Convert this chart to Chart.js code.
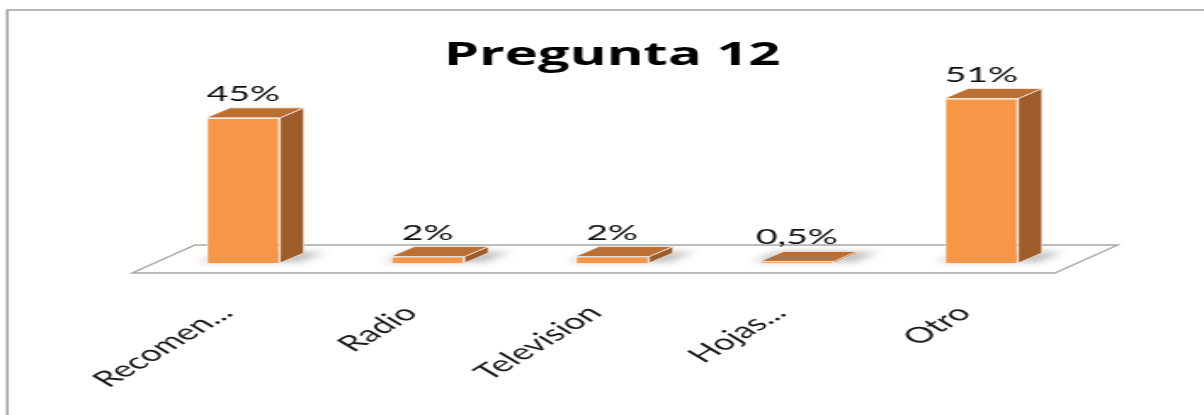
<!DOCTYPE html>
<html>
<head>
<meta charset="utf-8">
<script src="https://cdn.jsdelivr.net/npm/chart.js@4.4.1/dist/chart.umd.min.js"></script>
<style>
  html, body { margin: 0; padding: 0; background: #ffffff; overflow: hidden; }
  /* the chart is laid out narrow and widened horizontally, like an embedded office chart */
  #wrap {
    position: absolute; left: 0; top: 0;
    width: 708px; height: 415px;
    transform: scaleX(1.70057); transform-origin: 0 0;
  }
</style>
</head>
<body>
<div id="wrap"><canvas id="chart"></canvas></div>
<script>
// ---- data ----
const chartTitle = 'Pregunta 12';
const categories = ['Recomen...', 'Radio', 'Television', 'Hojas...', 'Otro'];
const values = [45, 2, 2, 0.5, 51];          // percent
const yMin = 0;
const yMax = 55;

// ---- look ----
const FONT = 'Lato, "Open Sans", sans-serif';
const TITLE_FONT = '"Open Sans", Lato, sans-serif';
const FRONT = '#F79646';
const SIDE = '#9D5C2A';
const TOP = '#BC6F33';
const DEPTH = { dx: 14, dy: -10 };          // oblique depth of each column

const fmtPct = v => String(v).replace('.', ',') + '%';

function poly(ctx, pts) {
  ctx.beginPath();
  ctx.moveTo(pts[0][0], pts[0][1]);
  for (let i = 1; i < pts.length; i++) ctx.lineTo(pts[i][0], pts[i][1]);
  ctx.closePath();
}

// frame, floor, shadows, column sides/tops and value labels
const columns3d = {
  id: 'columns3d',
  beforeDraw(chart) {
    const ctx = chart.ctx;
    ctx.save();
    ctx.strokeStyle = '#a3a3a3';
    ctx.lineWidth = 1.5;
    ctx.beginPath();
    ctx.moveTo(4.3, chart.height + 5);
    ctx.lineTo(4.3, 10);
    ctx.lineTo(chart.width + 5, 10);
    ctx.stroke();
    ctx.restore();
  },
  beforeDatasetsDraw(chart) {
    const ctx = chart.ctx;
    const a = chart.chartArea;
    const yb = chart.scales.y.getPixelForValue(0);
    ctx.save();
    // floor plate
    const floor = [[a.left - 11, yb + 10], [a.left + 26, yb - 18], [a.right + 26, yb - 18], [a.right - 11, yb + 10]];
    ctx.fillStyle = '#ffffff';
    ctx.strokeStyle = '#a6a6a6';
    ctx.lineWidth = 1.3;
    poly(ctx, floor);
    ctx.fill();
    ctx.stroke();
    // soft shadows on the floor
    ctx.filter = 'blur(3px)';
    ctx.fillStyle = 'rgba(0,0,0,0.26)';
    chart.getDatasetMeta(0).data.forEach(bar => {
      const p = bar.getProps(['x', 'width']);
      const l = p.x - p.width / 2, r = p.x + p.width / 2;
      poly(ctx, [[l - 4, yb - 1], [l - 4 + DEPTH.dx, yb + DEPTH.dy - 1], [r + DEPTH.dx + 12, yb + DEPTH.dy - 1], [r + 12, yb - 1]]);
      ctx.fill();
    });
    ctx.restore();
  },
  afterDatasetsDraw(chart) {
    const ctx = chart.ctx;
    const meta = chart.getDatasetMeta(0);
    ctx.save();
    meta.data.forEach((bar, i) => {
      const p = bar.getProps(['x', 'y', 'base', 'width']);
      const l = p.x - p.width / 2, r = p.x + p.width / 2;
      const t = Math.min(p.y, p.base), b = Math.max(p.y, p.base);
      const { dx, dy } = DEPTH;
      ctx.lineWidth = 1;
      ctx.strokeStyle = 'rgba(255,255,255,0.65)';
      // side
      ctx.fillStyle = SIDE;
      poly(ctx, [[r, t], [r + dx, t + dy], [r + dx, b + dy], [r, b]]);
      ctx.fill();
      ctx.stroke();
      // top
      ctx.fillStyle = TOP;
      poly(ctx, [[l, t], [l + dx, t + dy], [r + dx, t + dy], [r, t]]);
      ctx.fill();
      ctx.stroke();
      // value label
      ctx.fillStyle = '#111111';
      ctx.font = '22px ' + FONT;
      ctx.textAlign = 'center';
      ctx.textBaseline = 'alphabetic';
      ctx.fillText(fmtPct(values[i]), p.x, t - 17);
    });
    ctx.restore();
  }
};

new Chart(document.getElementById('chart'), {
  type: 'bar',
  data: {
    labels: categories,
    datasets: [{
      data: values,
      backgroundColor: FRONT,
      borderColor: 'rgba(255,255,255,0.7)',
      borderWidth: 1,
      categoryPercentage: 0.8,
      barPercentage: 0.5
    }]
  },
  options: {
    responsive: true,
    maintainAspectRatio: false,
    animation: false,
    events: [],
    layout: { padding: { left: 88.7, right: 76.7, top: 0, bottom: 0 } },
    plugins: {
      legend: { display: false },
      tooltip: { enabled: false },
      title: {
        display: true,
        text: chartTitle,
        color: '#000000',
        font: { family: TITLE_FONT, size: 33, weight: 'bold' },
        padding: { top: 36, bottom: 10 }
      }
    },
    scales: {
      x: {
        grid: { display: false, drawTicks: false },
        border: { display: false },
        ticks: {
          autoSkip: false,
          minRotation: 45,
          maxRotation: 45,
          padding: 37,
          labelOffset: -10,
          color: '#1a1a1a',
          font: { family: FONT, size: 22 }
        },
        afterFit(scale) { scale.height = 152; }
      },
      y: {
        display: false,
        min: yMin,
        max: yMax
      }
    }
  },
  plugins: [columns3d]
});
</script>
</body>
</html>
